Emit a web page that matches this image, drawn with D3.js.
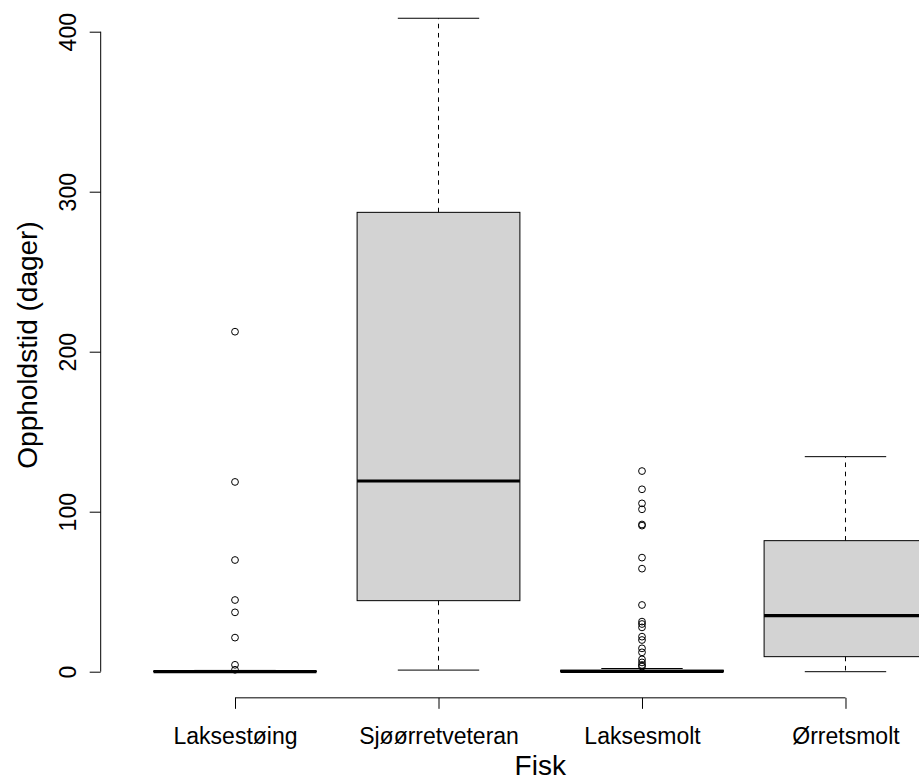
<!DOCTYPE html>
<html>
<head>
<meta charset="utf-8">
<script src="https://cdn.jsdelivr.net/npm/d3@7/dist/d3.min.js"></script>
<style>
  html, body { margin: 0; padding: 0; background: #fff; }
  svg { display: block; }
  text { font-family: "Liberation Sans", Arial, sans-serif; fill: #000; }
</style>
</head>
<body>
<script>
// Residence time (days) per fish group – five-number summaries and outliers
const categories = ["Laksestøing", "Sjøørretveteran", "Laksesmolt", "Ørretsmolt"];
const lowerWhisker = [0, 1, 0, 0];
const lowerQuartile = [0, 44.4, 0, 9.4];
const medians = [0.1, 119.2, 0.2, 35];
const upperQuartile = [0.4, 287.1, 0.9, 81.9];
const upperWhisker = [0.8, 408.4, 2, 134.4];
const outliersLaksestoing = [212.5, 118.6, 69.8, 44.8, 37.1, 21.3, 4.3, 1.2];
const outliersSjoorretveteran = [];
const outliersLaksesmolt = [125.4, 114, 105.2, 101.5, 92, 91.3, 71.3, 64.4, 41.7,
  31.3, 29.8, 27.7, 21.9, 19.8, 14.6, 12.1, 7.7, 5.8, 4.2, 3.2];
const outliersOrretsmolt = [];
const yTicks = [0, 100, 200, 300, 400];
const xTitle = "Fisk";
const yTitle = "Oppholdstid (dager)";

const outliers = [outliersLaksestoing, outliersSjoorretveteran, outliersLaksesmolt, outliersOrretsmolt];

const W = 919, H = 781;
const tickFont = "23px";
const titleFont = "28px";
const svg = d3.select("body").append("svg").attr("width", W).attr("height", H);

// plot region (right edge runs past the canvas)
const left = 100.7, right = 979.8;
const y = d3.scaleLinear().domain([0, 400]).range([671.7, 31.7]);
const x = d3.scalePoint().domain(categories).range([left, right]).padding(0.66);
const step = x.step();
const boxHalf = step * 0.4;
const capHalf = boxHalf * 0.5;

const dataMax = d3.max([...upperWhisker, ...outliers.flat()]);
const dataMin = d3.min(lowerWhisker);
const pad = (dataMax - dataMin) * 0.04;
const plotBottom = y(dataMin - pad);
const plotTop = y(dataMax + pad);

const rows = categories.map((c, i) => ({
  c, lo: lowerWhisker[i], q1: lowerQuartile[i], med: medians[i],
  q3: upperQuartile[i], hi: upperWhisker[i], out: outliers[i]
}));

const g = svg.append("g");

const box = g.selectAll("g.box").data(rows).join("g").attr("class", "box");

// boxes
box.append("rect")
  .attr("x", d => x(d.c) - boxHalf)
  .attr("width", boxHalf * 2)
  .attr("y", d => y(d.q3))
  .attr("height", d => Math.max(0, y(d.q1) - y(d.q3)))
  .attr("fill", "#d3d3d3")
  .attr("stroke", "#000")
  .attr("stroke-width", 1);

// medians
box.append("line")
  .attr("x1", d => x(d.c) - boxHalf).attr("x2", d => x(d.c) + boxHalf)
  .attr("y1", d => y(d.med)).attr("y2", d => y(d.med))
  .attr("stroke", "#000").attr("stroke-width", 3.2);

// whiskers (dashed)
box.append("line")
  .attr("x1", d => x(d.c)).attr("x2", d => x(d.c))
  .attr("y1", d => y(d.q3)).attr("y2", d => y(d.hi))
  .attr("stroke", "#000").attr("stroke-width", 1).attr("stroke-dasharray", "4.6,4.6");
box.append("line")
  .attr("x1", d => x(d.c)).attr("x2", d => x(d.c))
  .attr("y1", d => y(d.q1)).attr("y2", d => y(d.lo))
  .attr("stroke", "#000").attr("stroke-width", 1).attr("stroke-dasharray", "4.6,4.6");

// whisker caps
box.append("line")
  .attr("x1", d => x(d.c) - capHalf).attr("x2", d => x(d.c) + capHalf)
  .attr("y1", d => y(d.hi)).attr("y2", d => y(d.hi))
  .attr("stroke", "#000").attr("stroke-width", 1);
box.append("line")
  .attr("x1", d => x(d.c) - capHalf).attr("x2", d => x(d.c) + capHalf)
  .attr("y1", d => y(d.lo)).attr("y2", d => y(d.lo))
  .attr("stroke", "#000").attr("stroke-width", 1);

// outliers
box.each(function (d) {
  d3.select(this).selectAll("circle").data(d.out).join("circle")
    .attr("cx", x(d.c))
    .attr("cy", v => y(v))
    .attr("r", 3.4)
    .attr("fill", "none")
    .attr("stroke", "#000")
    .attr("stroke-width", 1);
});

// y axis
const yAxis = svg.append("g").attr("transform", `translate(${left},0)`)
  .call(d3.axisLeft(y).tickValues(yTicks).tickSize(11).tickFormat(d3.format("d")));
yAxis.select(".domain").remove();
yAxis.append("line")
  .attr("x1", 0).attr("x2", 0)
  .attr("y1", y(yTicks[0])).attr("y2", y(yTicks[yTicks.length - 1]))
  .attr("stroke", "#000");
yAxis.selectAll(".tick line").attr("stroke", "#000");
yAxis.selectAll(".tick text")
  .attr("x", null).attr("dy", null)
  .attr("text-anchor", "middle")
  .attr("transform", "translate(-24.5,0) rotate(-90)")
  .style("font-size", tickFont)
  .style("font-family", "'Liberation Sans', Arial, sans-serif")
  .attr("fill", "#000");

// x axis
const xAxis = svg.append("g").attr("transform", `translate(0,${plotBottom})`)
  .call(d3.axisBottom(x).tickSize(11));
xAxis.select(".domain").remove();
xAxis.append("line")
  .attr("x1", x(categories[0])).attr("x2", x(categories[categories.length - 1]))
  .attr("y1", 0).attr("y2", 0)
  .attr("stroke", "#000");
xAxis.selectAll(".tick line").attr("stroke", "#000");
xAxis.selectAll(".tick text")
  .attr("dy", null).attr("y", 744.5 - plotBottom)
  .style("font-size", tickFont)
  .style("font-family", "'Liberation Sans', Arial, sans-serif")
  .attr("fill", "#000");

// axis titles
svg.append("text")
  .attr("x", (left + right) / 2).attr("y", 775)
  .attr("text-anchor", "middle")
  .style("font-size", titleFont)
  .text(xTitle);

svg.append("text")
  .attr("transform", `translate(37,${(plotTop + plotBottom) / 2}) rotate(-90)`)
  .attr("text-anchor", "middle")
  .style("font-size", titleFont)
  .text(yTitle);
</script>
</body>
</html>
